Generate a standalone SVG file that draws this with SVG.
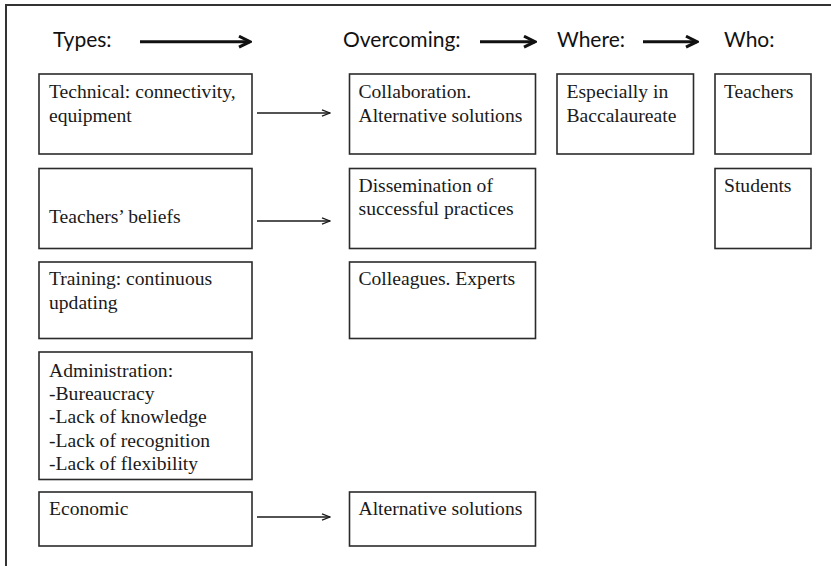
<svg xmlns="http://www.w3.org/2000/svg" width="831" height="566" viewBox="0 0 831 566">
  <style>
    .box { fill: #ffffff; stroke: #2b2b2b; stroke-width: 1.6; }
    .thick { stroke: #111111; stroke-width: 3; fill: none; }
    .thin { stroke: #1a1a1a; stroke-width: 1.3; fill: none; }
  </style>
  <defs>
    <marker id="bigHead" markerUnits="userSpaceOnUse" viewBox="0 0 14 14" refX="12" refY="7" markerWidth="14" markerHeight="14" orient="auto">
      <path d="M1,1.5 L12,7 L1,12.5" fill="none" stroke="#111111" stroke-width="3" stroke-linejoin="miter"/>
    </marker>
    <marker id="smallHead" markerUnits="userSpaceOnUse" viewBox="0 0 10 8" refX="9" refY="4" markerWidth="10" markerHeight="8" orient="auto">
      <path d="M1,0.8 L9,4 L1,7.2" fill="none" stroke="#1a1a1a" stroke-width="1.3"/>
    </marker>
  </defs>

  <rect width="831" height="566" fill="#ffffff"/>
  <!-- outer frame -->
  <path d="M6,566 L6,5 L831,5" fill="none" stroke="#333333" stroke-width="2"/>

  <!-- column headings -->
  <g id="headings" font-family="Lato" font-size="21" fill="#111111">
    <text x="53" y="47">Types:</text>
    <text x="343" y="47">Overcoming:</text>
    <text x="557" y="47">Where:</text>
    <text x="724" y="47">Who:</text>
  </g>

  <!-- connectors -->
  <g id="connectors">
    <line class="thick" x1="140" y1="41.7" x2="250" y2="41.7" marker-end="url(#bigHead)"/>
    <line class="thick" x1="480" y1="41.7" x2="535" y2="41.7" marker-end="url(#bigHead)"/>
    <line class="thick" x1="643" y1="41.7" x2="697" y2="41.7" marker-end="url(#bigHead)"/>
    <line class="thin" x1="257" y1="113" x2="330" y2="113" marker-end="url(#smallHead)"/>
    <line class="thin" x1="257" y1="221" x2="330" y2="221" marker-end="url(#smallHead)"/>
    <line class="thin" x1="257" y1="517" x2="330" y2="517" marker-end="url(#smallHead)"/>
  </g>

  <g id="nodes" font-family="Liberation Serif" font-size="19.6" fill="#1a1a1a">
  <!-- Types column -->
  <g id="technical">
    <rect class="box" x="39" y="74" width="213" height="80"/>
    <text x="49" y="98">Technical: connectivity,</text>
    <text x="49" y="121.5">equipment</text>
  </g>
  <g id="beliefs">
    <rect class="box" x="39" y="168.5" width="213" height="80"/>
    <text x="49" y="223">Teachers’ beliefs</text>
  </g>
  <g id="training">
    <rect class="box" x="39" y="262" width="213" height="76.5"/>
    <text x="49" y="285">Training: continuous</text>
    <text x="49" y="308.5">updating</text>
  </g>
  <g id="administration">
    <rect class="box" x="39" y="352" width="213" height="127.5"/>
    <text x="49" y="376.5">Administration:</text>
    <text x="49" y="400">-Bureaucracy</text>
    <text x="49" y="423.3">-Lack of knowledge</text>
    <text x="49" y="446.7">-Lack of recognition</text>
    <text x="49" y="470">-Lack of flexibility</text>
  </g>
  <g id="economic">
    <rect class="box" x="39" y="492" width="213" height="54"/>
    <text x="49" y="515">Economic</text>
  </g>

  <!-- Overcoming column -->
  <g id="collaboration">
    <rect class="box" x="349.5" y="74" width="186" height="80"/>
    <text x="358.5" y="98">Collaboration.</text>
    <text x="358.5" y="121.5">Alternative solutions</text>
  </g>
  <g id="dissemination">
    <rect class="box" x="349.5" y="168.5" width="186" height="80"/>
    <text x="358.5" y="191.7">Dissemination of</text>
    <text x="358.5" y="215">successful practices</text>
  </g>
  <g id="colleagues">
    <rect class="box" x="349.5" y="262" width="186" height="76.5"/>
    <text x="358.5" y="285">Colleagues. Experts</text>
  </g>
  <g id="alternatives">
    <rect class="box" x="349.5" y="492" width="186" height="54"/>
    <text x="358.5" y="515">Alternative solutions</text>
  </g>

  <!-- Where column -->
  <g id="baccalaureate">
    <rect class="box" x="557" y="74" width="136.5" height="80"/>
    <text x="566.5" y="98">Especially in</text>
    <text x="566.5" y="121.5">Baccalaureate</text>
  </g>

  <!-- Who column -->
  <g id="teachers">
    <rect class="box" x="715" y="74" width="96" height="80"/>
    <text x="724" y="98">Teachers</text>
  </g>
  <g id="students">
    <rect class="box" x="715" y="168.5" width="96" height="80"/>
    <text x="724" y="191.7">Students</text>
  </g>
  </g>
</svg>
